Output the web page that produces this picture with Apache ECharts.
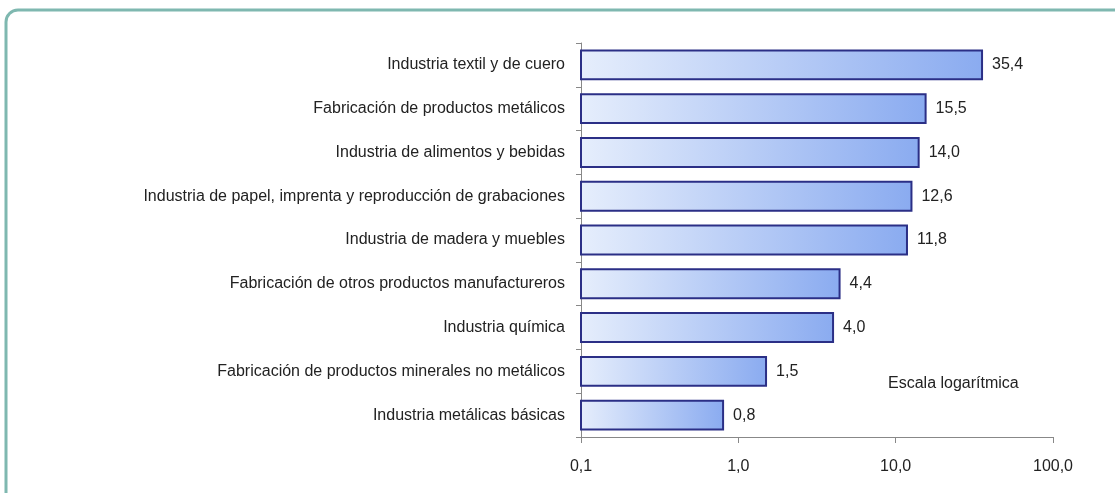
<!DOCTYPE html>
<html><head><meta charset="utf-8">
<script src="https://cdn.jsdelivr.net/npm/echarts@6/dist/echarts.min.js"></script>
<style>html,body{margin:0;padding:0;background:#fff}#c{width:1115px;height:493px}</style>
</head><body><div id="c"></div>
<script>
const categories = [
  "Industria textil y de cuero",
  "Fabricación de productos metálicos",
  "Industria de alimentos y bebidas",
  "Industria de papel, imprenta y reproducción de grabaciones",
  "Industria de madera y muebles",
  "Fabricación de otros productos manufactureros",
  "Industria química",
  "Fabricación de productos minerales no metálicos",
  "Industria metálicas básicas"
];
const values = [35.4, 15.5, 14.0, 12.6, 11.8, 4.4, 4.0, 1.5, 0.8];
const axisTicks = [0.1, 1, 10, 100];
const note = "Escala logarítmica";

const FONT = "'Liberation Sans','Arial',sans-serif";
const fmt = v => v.toFixed(1).replace('.', ',');
const chart = echarts.init(document.getElementById('c'), null, {renderer:'canvas'});
const grad = new echarts.graphic.LinearGradient(0,0,1,0,[{offset:0,color:'#e6eefc'},{offset:1,color:'#8aabf0'}]);
chart.setOption({
  animation:false,
  backgroundColor:'#fff',
  graphic:[
    {type:'rect', shape:{x:6,y:10,width:1160,height:540,r:12}, style:{fill:'none',stroke:'#7fb8b0',lineWidth:3}, z:-1},
    {type:'text', left:888, top:376, style:{text:note, font:'16px '+FONT, fill:'#222'}}
  ],
  grid:{left:581, right:62, top:43, bottom:56, containLabel:false},
  xAxis:{
    type:'log', logBase:10, min:axisTicks[0], max:axisTicks[axisTicks.length-1],
    axisLine:{show:true,lineStyle:{color:'#888',width:1}},
    axisTick:{show:true,length:6,lineStyle:{color:'#888'}},
    minorTick:{show:false},
    splitLine:{show:false},
    axisLabel:{color:'#222', fontFamily:FONT, fontSize:16, margin:22, formatter:fmt}
  },
  yAxis:{
    type:'category', data:categories, inverse:true,
    axisLine:{show:true,lineStyle:{color:'#888'}},
    axisTick:{show:true,length:5,lineStyle:{color:'#888'}},
    axisLabel:{color:'#222', fontFamily:FONT, fontSize:16, margin:16}
  },
  series:[{
    type:'custom',
    data:values.map((v,i)=>[v,i]),
    encode:{x:0,y:1},
    renderItem:(params, api)=>{
      const v = api.value(0), idx = api.value(1);
      const start = api.coord([axisTicks[0], idx]);
      const end = api.coord([v, idx]);
      const h = api.size([0,1])[1]*0.66;
      return {
        type:'group',
        children:[
          {type:'rect', shape:{x:start[0], y:start[1]-h/2, width:end[0]-start[0], height:h},
            style:{fill:grad, stroke:'#2b2f86', lineWidth:2}},
          {type:'text', style:{text:fmt(v), x:end[0]+10, y:end[1], verticalAlign:'middle',
            font:'16px '+FONT, fill:'#222'}}
        ]
      };
    }
  }]
});
</script></body></html>
